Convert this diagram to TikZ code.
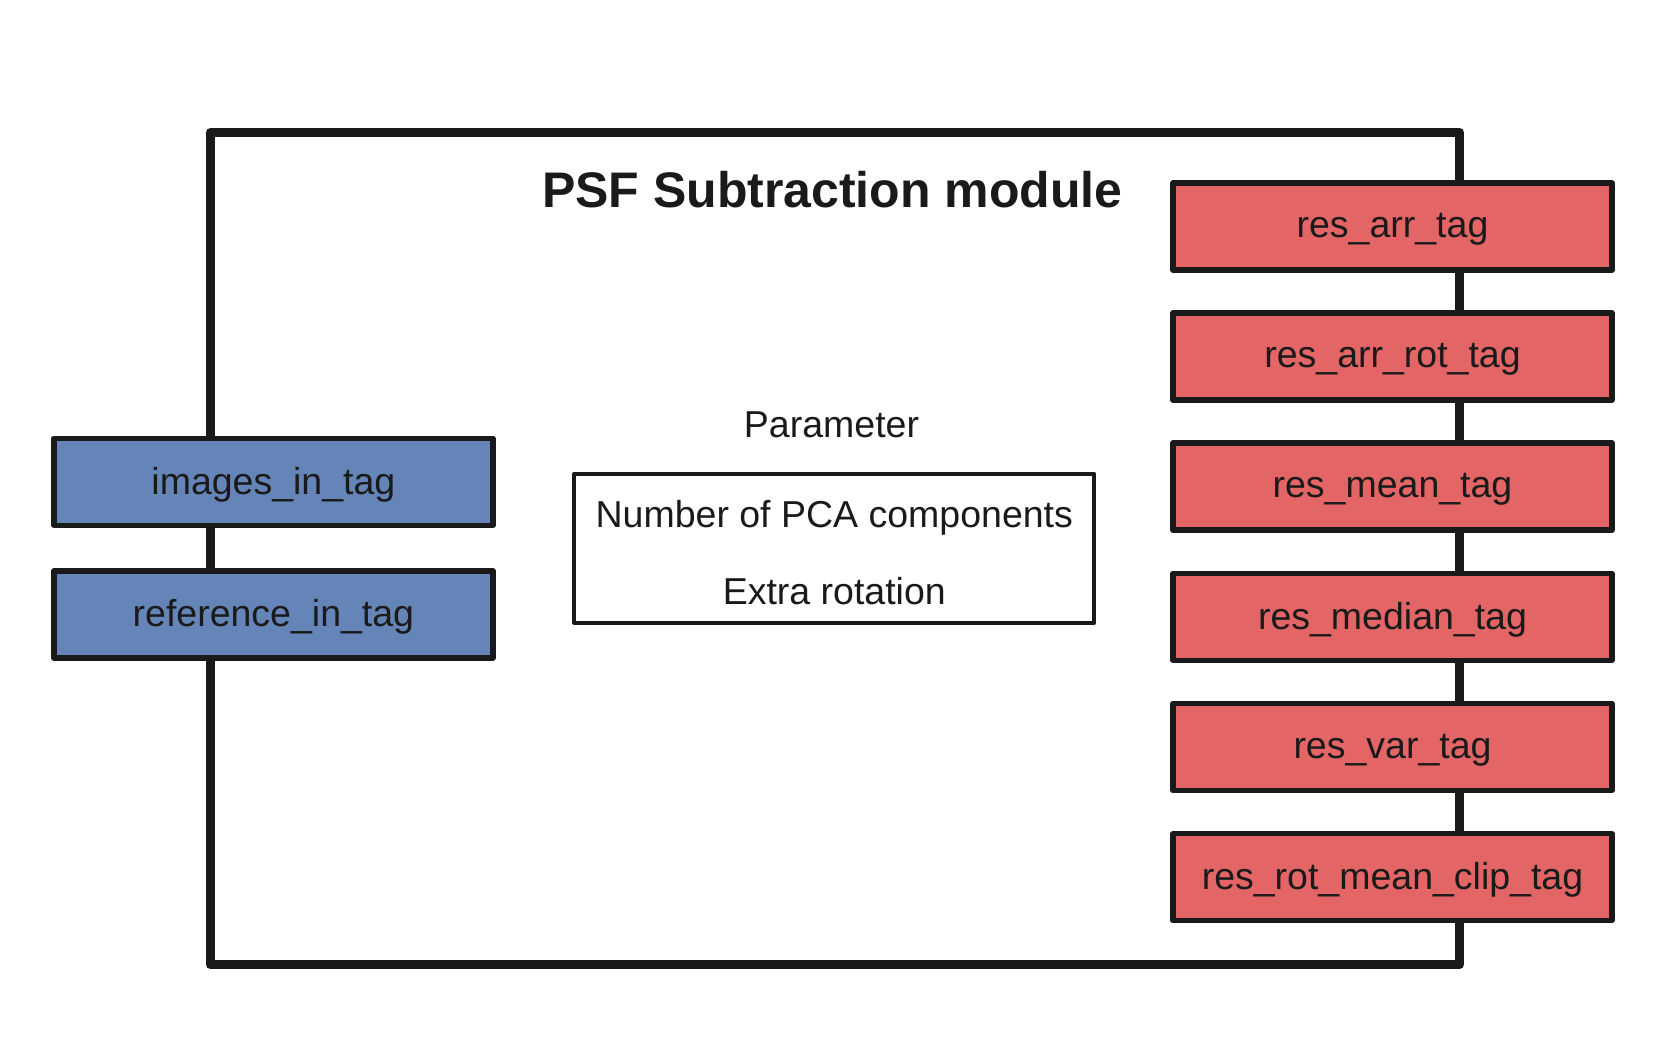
\documentclass[tikz,border=0pt]{standalone}
\usepackage{fontspec}
\setmainfont{Liberation Sans}
\definecolor{inkc}{HTML}{1A1A1A}
\definecolor{bluefill}{HTML}{6585B8}
\definecolor{redfill}{HTML}{E36565}
\tikzset{
  x=1pt, y=-1pt,
  txt/.style={font=\fontsize{37.5}{45}\selectfont, text=inkc},
  port/.style={txt, draw=inkc, line width=5.5pt, line join=round, minimum width=439pt, minimum height=87pt, inner sep=0pt, text depth=2pt},
  inport/.style={port, fill=bluefill},
  outport/.style={port, fill=redfill},
  frame/.style={draw=inkc, line width=9pt, line join=round},
  parbox/.style={draw=inkc, line width=4pt, line join=round, minimum width=520pt, minimum height=149pt, inner sep=0pt}
}
\begin{document}
\begin{tikzpicture}
\useasboundingbox (0,0) rectangle (1667,1042);
\coordinate (tl) at (210.5,132.5);
\coordinate (br) at (1459.5,964.7);
\draw[frame] (tl) rectangle (br);
\node[txt, font=\fontsize{50}{60}\selectfont\bfseries] (title) at (832.3,190) {PSF Subtraction module};
\node[txt] (plabel) at (831.5,425) {Parameter};
\node[parbox] (pbox) at (834.3,548.3) {};
\node[txt] (p1) at (834.3,518) {Number of PCA components};
\node[txt] (p2) at (834.3,591) {Extra rotation};
\node[inport] (in1) at (273.4,481.9) {images\_in\_tag};
\node[inport] (in2) at (273.4,614.3) {reference\_in\_tag};
\node[outport] (o1) at (1392.5,226.4) {res\_arr\_tag};
\node[outport] (o2) at (1392.5,356.6) {res\_arr\_rot\_tag};
\node[outport] (o3) at (1392.5,486.7) {res\_mean\_tag};
\node[outport] (o4) at (1392.5,616.9) {res\_median\_tag};
\node[outport] (o5) at (1392.5,747.0) {res\_var\_tag};
\node[outport] (o6) at (1392.5,877.2) {res\_rot\_mean\_clip\_tag};
\end{tikzpicture}
\end{document}
